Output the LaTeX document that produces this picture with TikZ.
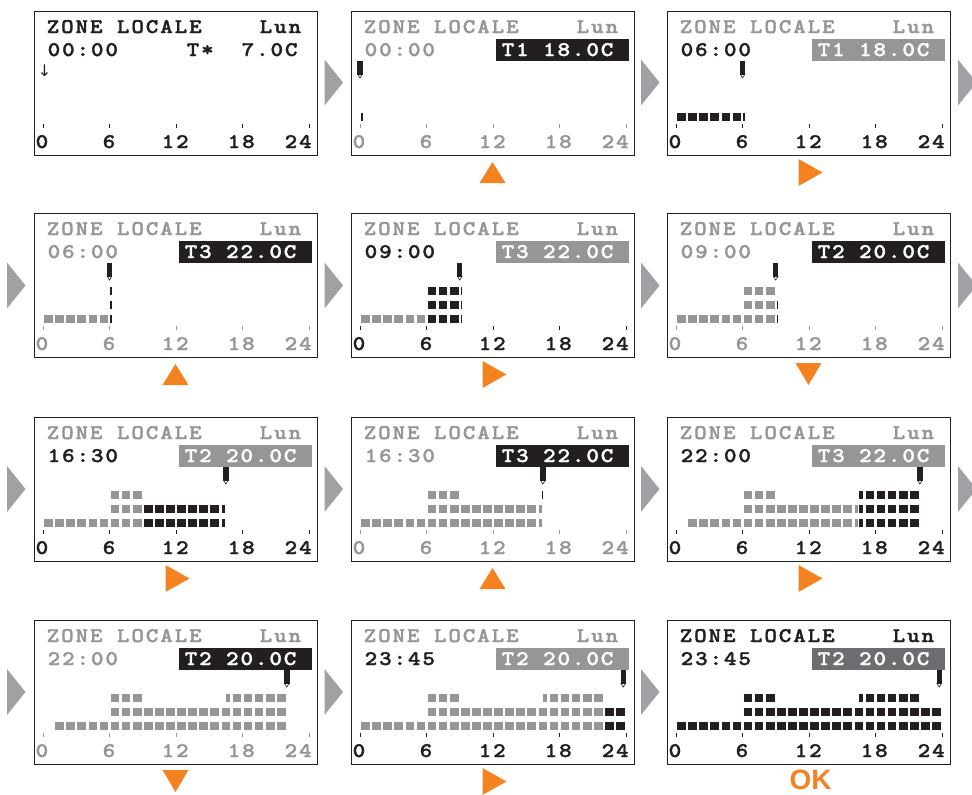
\documentclass[tikz,border=0pt]{standalone}
\usepackage{fontspec}
\newfontfamily\lcdfont{lmmonolt10-bold.otf}[FakeStretch=1.15, LetterSpace=9, FakeBold=1.5]
\newfontfamily\okfont{Liberation Sans Bold}
\newfontfamily\symfont{DejaVu Sans}
\definecolor{lcdk}{RGB}{35,31,32}
\definecolor{lcdg}{RGB}{150,150,152}
\definecolor{lcddk}{RGB}{108,109,112}
\definecolor{arrg}{RGB}{160,161,164}
\definecolor{orng}{RGB}{245,130,32}
\def\LvA{102}\def\LvB{88}\def\LvC{74}
\newcommand\hdrline[2]{%
  \node[lcd,text=#2] (#1h) at (12.5,22) {ZONE LOCALE};
  \node[lcd,text=#2] (#1d) at (225.5,22) {Lun};}
\newcommand\timetxt[3]{\node[lcd,text=#2] (#1t) at (13.5,45) {#3};}
\newcommand\tbox[3]{%
  \fill[#2] (145,28) rectangle (278,49.5);
  \node[lcd,text=white] (#1b) at (150.5,45) {#3};}
\newcommand\hraxis[2]{%
  \foreach \h in {0,6,12,18,24} \draw[color=#2, line width=1pt] ({9+11.0833*\h},113) -- ({9+11.0833*\h},117);
  \node[lcd,text=#2] (#1a0) at (1.5,137) {0};
  \node[lcd,text=#2] (#1a6) at (68.5,137) {6};
  \node[lcd,text=#2] (#1a12) at (127.5,137) {12};
  \node[lcd,text=#2] (#1a18) at (193.5,137) {18};
  \node[lcd,text=#2] (#1a24) at (250.5,137) {24};}
\newcommand\pencil[1]{%
  \pgfmathsetmacro\mx{9+11.0833*#1}
  \fill[lcdk] (\mx-2.7,50) rectangle (\mx+2.7,63.5);
  \draw[lcdk, fill=white, line width=0.6pt] (\mx-2.2,63.5) -- (\mx+2.2,63.5) -- (\mx,67) -- cycle;}
\newcommand\curs[4]{% color, hour, level, offset
  \pgfmathsetmacro\cx{9+11.0833*#2+#4}
  \fill[#1] (\cx-0.8,#3) rectangle (\cx+0.8,#3+8);}
\newcommand\cells[4]{% color, level top, from, to
  \pgfmathtruncatemacro\ca{floor(#3)}
  \pgfmathtruncatemacro\cb{ceil(#4)-1}
  \foreach \i in {\ca,...,\cb}{
    \pgfmathsetmacro\xl{max(9+11.0833*\i+1.2, 9+11.0833*#3+0.5)}
    \pgfmathsetmacro\xr{min(9+11.0833*(\i+1)-1.2, 9+11.0833*#4-0.5)}
    \fill[#1] (\xl,#2) rectangle (\xr,#2+8);
  }}
\newcommand\frm{\draw[lcdk, line width=1pt] (0,0) rectangle (283,144);}
\newcommand\gtri[2]{\fill[arrg] (#1,#2-23) -- (#1+18.5,#2) -- (#1,#2+23) -- cycle;}
\newcommand\oup{\fill[orng] (128.5,172) -- (154.5,172) -- (141.5,151) -- cycle;}
\newcommand\odown{\fill[orng] (128.5,150) -- (154.5,150) -- (141.5,172) -- cycle;}
\newcommand\oright{\fill[orng] (131.5,148) -- (155.5,161.5) -- (131.5,175) -- cycle;}
\begin{document}
\begin{tikzpicture}[x=1pt,y=-1pt,
  lcd/.style={font=\lcdfont\fontsize{20.8}{20.8}\selectfont, inner sep=0pt, anchor=base west}]
\useasboundingbox (0,0) rectangle (972,795);
% grey step arrows
\foreach \yc in {82.5} \foreach \xa in {324.5,641,958} {\gtri{\xa}{\yc}}
\foreach \yc in {285.5,489} \foreach \xa in {7,324.5,641,958} {\gtri{\xa}{\yc}}
\foreach \yc in {692} \foreach \xa in {7,324.5,641} {\gtri{\xa}{\yc}}
% panel 1
\begin{scope}[shift={(34,11)}]
  \frm \hdrline{p1}{lcdk} \timetxt{p1}{lcdk}{00:00}
  \node[lcd,text=lcdk] (p1ts) at (152.5,45) {T*};
  \node[lcd,text=lcdk] (p1tv) at (207.5,45) {7.0C};
  \node[font=\symfont\fontsize{16}{16}\selectfont, text=lcdk, inner sep=0pt] (p1arr) at (10.5,60) {↓};
  \hraxis{p1}{lcdk}
\end{scope}
% panel 2
\begin{scope}[shift={(351,11)}]
  \frm \hdrline{p2}{lcdg} \timetxt{p2}{lcdg}{00:00}
  \tbox{p2}{lcdk}{T1 18.0C}
  \pencil{0}
  \curs{lcdk}{0}{\LvA}{1.7}
  \hraxis{p2}{lcdg} \oup
\end{scope}
% panel 3
\begin{scope}[shift={(667,11)}]
  \frm \hdrline{p3}{lcdg} \timetxt{p3}{lcdk}{06:00}
  \tbox{p3}{lcdg}{T1 18.0C}
  \pencil{6}
  \cells{lcdk}{\LvA}{0}{6}
  \curs{lcdk}{6}{\LvA}{1.7}
  \hraxis{p3}{lcdk} \oright
\end{scope}
% panel 4
\begin{scope}[shift={(34,213)}]
  \frm \hdrline{p4}{lcdg} \timetxt{p4}{lcdg}{06:00}
  \tbox{p4}{lcdk}{T3 22.0C}
  \pencil{6}
  \cells{lcdg}{\LvA}{0}{6}
  \curs{lcdk}{6}{\LvA}{1.7}\curs{lcdk}{6}{\LvB}{1.7}\curs{lcdk}{6}{\LvC}{1.7}
  \hraxis{p4}{lcdg} \oup
\end{scope}
% panel 5
\begin{scope}[shift={(351,213)}]
  \frm \hdrline{p5}{lcdg} \timetxt{p5}{lcdk}{09:00}
  \tbox{p5}{lcdg}{T3 22.0C}
  \pencil{9}
  \cells{lcdg}{\LvA}{0}{6}
  \cells{lcdk}{\LvA}{6}{9}\cells{lcdk}{\LvB}{6}{9}\cells{lcdk}{\LvC}{6}{9}
  \curs{lcdk}{9}{\LvA}{1.7}\curs{lcdk}{9}{\LvB}{1.7}\curs{lcdk}{9}{\LvC}{1.7}
  \hraxis{p5}{lcdk} \oright
\end{scope}
% panel 6
\begin{scope}[shift={(667,213)}]
  \frm \hdrline{p6}{lcdg} \timetxt{p6}{lcdg}{09:00}
  \tbox{p6}{lcdk}{T2 20.0C}
  \pencil{9}
  \cells{lcdg}{\LvA}{0}{9}\cells{lcdg}{\LvB}{6}{9}\cells{lcdg}{\LvC}{6}{9}
  \curs{lcdk}{9}{\LvA}{1.7}\curs{lcdk}{9}{\LvB}{1.7}
  \hraxis{p6}{lcdg} \odown
\end{scope}
% panel 7
\begin{scope}[shift={(34,417)}]
  \frm \hdrline{p7}{lcdg} \timetxt{p7}{lcdk}{16:30}
  \tbox{p7}{lcdg}{T2 20.0C}
  \pencil{16.5}
  \cells{lcdg}{\LvA}{0}{9}\cells{lcdg}{\LvB}{6}{9}\cells{lcdg}{\LvC}{6}{9}
  \cells{lcdk}{\LvA}{9}{16.5}\cells{lcdk}{\LvB}{9}{16.5}
  \hraxis{p7}{lcdk} \oright
\end{scope}
% panel 8
\begin{scope}[shift={(351,417)}]
  \frm \hdrline{p8}{lcdg} \timetxt{p8}{lcdg}{16:30}
  \tbox{p8}{lcdk}{T3 22.0C}
  \pencil{16.5}
  \cells{lcdg}{\LvA}{0}{16.5}\cells{lcdg}{\LvB}{6}{16.5}\cells{lcdg}{\LvC}{6}{9}
  \curs{lcdk}{16.5}{\LvC}{-0.5}
  \hraxis{p8}{lcdg} \oup
\end{scope}
% panel 9
\begin{scope}[shift={(667,417)}]
  \frm \hdrline{p9}{lcdg} \timetxt{p9}{lcdk}{22:00}
  \tbox{p9}{lcdg}{T3 22.0C}
  \pencil{22}
  \cells{lcdg}{\LvA}{1}{16.5}\cells{lcdg}{\LvB}{6}{16.5}\cells{lcdg}{\LvC}{6}{9}
  \cells{lcdk}{\LvA}{16.5}{22}\cells{lcdk}{\LvB}{16.5}{22}\cells{lcdk}{\LvC}{16.5}{22}
  \hraxis{p9}{lcdk} \oright
\end{scope}
% panel 10
\begin{scope}[shift={(34,620)}]
  \frm \hdrline{p10}{lcdg} \timetxt{p10}{lcdg}{22:00}
  \tbox{p10}{lcdk}{T2 20.0C}
  \pencil{22}
  \cells{lcdg}{\LvA}{1}{22}\cells{lcdg}{\LvB}{6}{22}\cells{lcdg}{\LvC}{6}{9}\cells{lcdg}{\LvC}{16.5}{22}
  \hraxis{p10}{lcdg} \odown
\end{scope}
% panel 11
\begin{scope}[shift={(351,620)}]
  \frm \hdrline{p11}{lcdg} \timetxt{p11}{lcdk}{23:45}
  \tbox{p11}{lcdg}{T2 20.0C}
  \pencil{23.75}
  \cells{lcdg}{\LvA}{0}{22}\cells{lcdg}{\LvB}{6}{22}\cells{lcdg}{\LvC}{6}{9}\cells{lcdg}{\LvC}{16.5}{22}
  \cells{lcdk}{\LvA}{22}{24}\cells{lcdk}{\LvB}{22}{24}
  \hraxis{p11}{lcdk} \oright
\end{scope}
% panel 12
\begin{scope}[shift={(667,620)}]
  \frm \hdrline{p12}{lcdk} \timetxt{p12}{lcdk}{23:45}
  \tbox{p12}{lcddk}{T2 20.0C}
  \pencil{23.75}
  \cells{lcdk}{\LvA}{0}{24}\cells{lcdk}{\LvB}{6}{24}\cells{lcdk}{\LvC}{6}{9}\cells{lcdk}{\LvC}{16.5}{22}
  \hraxis{p12}{lcdk}
  \node[font=\okfont\fontsize{28}{28}\selectfont, text=orng, inner sep=0pt, anchor=base] (ok) at (143.5,169.5) {OK};
\end{scope}
\end{tikzpicture}
\end{document}
